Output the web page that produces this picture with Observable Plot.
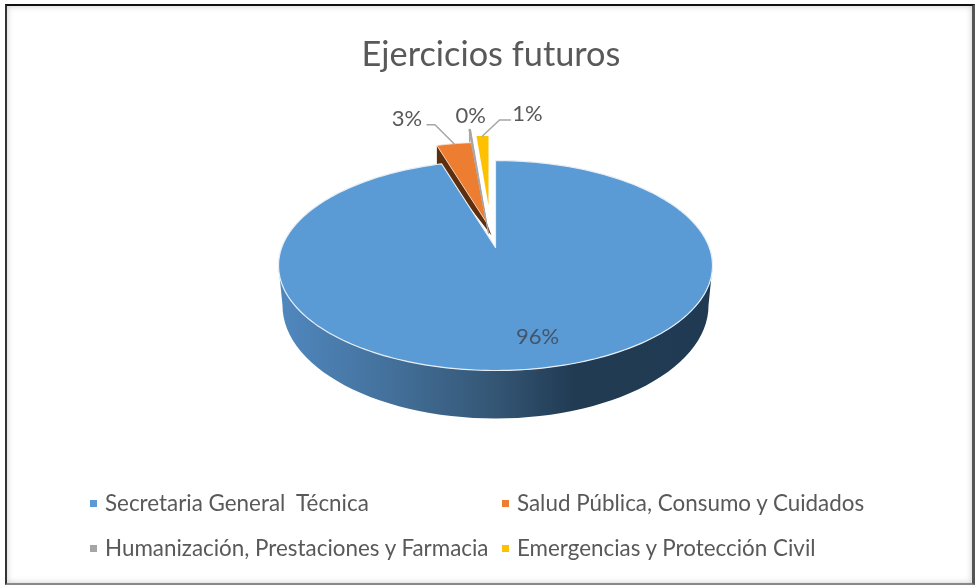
<!DOCTYPE html>
<html lang="es">
<head>
<meta charset="utf-8">
<script src="https://cdn.jsdelivr.net/npm/d3@7"></script>
<script src="https://cdn.jsdelivr.net/npm/@observablehq/plot@0.6"></script>
<style>
  html, body { margin: 0; padding: 0; background: #fff; }
  #page { position: relative; width: 976px; height: 585px; overflow: hidden; font-family: Lato, "Open Sans", sans-serif; color: #595959; filter: blur(0.7px); }
  #frame { position: absolute; left: 5px; top: 4px; right: 1px; bottom: 0; border-style: solid; border-width: 2px 3px 2px 2px; border-color: #111 #555 #888 #333; box-shadow: inset 0 0 6px #ccc; pointer-events: none; box-sizing: border-box; }
  h1 { position: absolute; left: 0; top: 30px; width: 982px; margin: 0; text-align: center; font-size: 34.3px; line-height: 46px; font-weight: 400; color: #595959; }
  #chart { position: absolute; left: 0; top: 80px; }
  #chart svg { display: block; }
  #legend { position: absolute; left: 0; top: 470px; width: 976px; height: 110px; font-size: 22.4px; }
  .item { position: absolute; white-space: pre; line-height: 26px; }
  .item i { position: absolute; left: -15px; top: 10px; width: 7px; height: 7px; }
</style>
</head>
<body>
<div id="page">
  <h1>Ejercicios futuros</h1>
  <div id="chart"></div>
  <div id="legend"></div>
  <div id="frame"></div>
</div>
<script>
// Data
const categories = ["Secretaria General  Técnica", "Salud Pública, Consumo y Cuidados", "Humanización, Prestaciones y Farmacia", "Emergencias y Protección Civil"];
const shares = [96.0, 2.8, 0.1, 1.1];
const colors = ["#5b9bd5", "#ed7d31", "#a5a5a5", "#ffc000"];

// Geometry of the tilted pie (pixels per pie unit, pie centre)
const W = 976, H = 390, top0 = 80, RX = 217, RY = 105, CX = 495, CY = 265;
const APEX = 18 / RY;                 // perspective: the hub sits above the ellipse centre
const toX = px => (px - CX) / RX, toY = py => (CY - py) / RY;
const dx = px => px / RX, dy = py => -py / RY;

const total = d3.sum(shares);
const cum = d3.cumsum(shares).map(v => v / total);
const slices = shares.map((v, i) => ({i, from: i ? cum[i - 1] : 0, to: cum[i]}));

const rim = f => ({x: Math.sin(2 * Math.PI * f), y: Math.cos(2 * Math.PI * f)});
// explode: [offset x px, offset y px, radial scale]
const explode = [[0, 0, 1], [-9, -25, 0.92], [-7, -14, 1.2], [-7, -42, 0.8]];
function slicePoint(i, f) {
  const [ox, oy, k] = explode[i], p = rim(f), a = {x: 0, y: APEX};
  return {x: a.x + (p.x - a.x) * k + dx(ox), y: a.y + (p.y - a.y) * k + dy(oy)};
}
function slicePoly(s) {
  const n = Math.max(2, Math.ceil((s.to - s.from) * 240));
  const [ox, oy] = explode[s.i];
  const hub = {x: dx(ox), y: APEX + dy(oy)};
  const arc = d3.range(n + 1).map(t => slicePoint(s.i, s.from + (s.to - s.from) * t / n));
  return [hub, ...arc, hub].map(p => ({...p, id: s.i}));
}

// Outer wall of the main slice
const ang = d3.range(0, 61).map(t => Math.PI * t / 60);
const wallTop = ang.map(a => ({x: Math.cos(a), y: -Math.sin(a)}));
const wallBot = ang.map(a => ({x: Math.cos(a) * 213 / RX, y: -40 / RY - Math.sin(a) * 113 / RY})).reverse();
const wall = [...wallTop, ...wallBot, wallTop[0]];

// Thin wall of the exploded orange slice
const oPoly = slicePoly(slices[1]);
const oCorner = oPoly[1], oHub = oPoly[0];
const oWall = [oHub, oCorner, {x: oCorner.x, y: oCorner.y + dy(19)}, {x: oHub.x + dx(5), y: oHub.y + dy(13)}, oHub];

// Labels are placed relative to the rim of their slice
const pct = d3.format(".0%");
const mid = s => slicePoint(s.i, (s.from + s.to) / 2);
const labelOffset = [[null, null], [-47, -25], [1, -13], [45, -22]];
const labels = slices.map(s => {
  const m = mid(s);
  if (s.i === 0) return {x: dx(42), y: dy(336 - 265), t: pct(shares[0] / total), c: "#44546a"};
  const [ox, oy] = labelOffset[s.i];
  return {x: m.x + dx(ox), y: m.y + dy(oy), t: pct(shares[s.i] / total), c: "#595959"};
});
// Leader lines: [rim anchor, elbow, end]
const leaders = [
  [[0, 0], [-19, -19], [-27, -19]],
  [[0, 0], [0, 12]],
  [[0, 0], [17, -16], [28, -16]]
].map((pts, k) => {
  const m = mid(slices[k + 1]);
  return pts.map(([a, b]) => ({x: m.x + dx(a), y: m.y + dy(b), id: k}));
}).flat();

const defs = () => {
  const d = d3.create("svg:defs");
  const g = d.append("linearGradient").attr("id", "wallGrad");
  [[0, "#5088bf"], [0.25, "#44719c"], [0.5, "#345674"], [0.68, "#213b53"], [1, "#1f3a52"]].forEach(([o, c]) =>
    g.append("stop").attr("offset", o).attr("stop-color", c));
  return d.node();
};

const chart = Plot.plot({
  width: W, height: H, margin: 0,
  x: {domain: [toX(0), toX(W)], axis: null},
  y: {domain: [toY(top0 + H), toY(top0)], axis: null},
  marks: [
    defs,
    Plot.line(wall, {x: "x", y: "y", fill: "url(#wallGrad)", stroke: "none", curve: "linear"}),
    Plot.line(oWall, {x: "x", y: "y", fill: "#5e2f0f", stroke: "none", curve: "linear"}),
    Plot.line(slicePoly(slices[0]), {x: "x", y: "y", fill: colors[0], stroke: "#e8eef5", strokeWidth: 1.2, curve: "linear"}),
    Plot.line(oPoly, {x: "x", y: "y", fill: colors[1], stroke: "#f3dccb", strokeWidth: 0.8, curve: "linear"}),
    Plot.line(slicePoly(slices[2]), {x: "x", y: "y", fill: colors[2], stroke: colors[2], strokeWidth: 1, curve: "linear"}),
    Plot.line(slicePoly(slices[3]), {x: "x", y: "y", fill: colors[3], stroke: "none", curve: "linear"}),
    Plot.line(leaders, {x: "x", y: "y", z: "id", stroke: "#a6a6a6", strokeWidth: 1.5, curve: "linear"}),
    Plot.text(labels, {x: "x", y: "y", text: "t", fill: "c", fontSize: 22, fontFamily: "Lato, 'Open Sans', sans-serif"})
  ]
});
document.getElementById("chart").append(chart);

// Legend
const legendPos = [[105, 20], [517, 20], [105, 65], [517, 65]];
const legend = d3.select("#legend");
categories.forEach((c, i) => {
  const it = legend.append("div").attr("class", "item")
    .style("left", legendPos[i][0] + "px").style("top", legendPos[i][1] + "px").text(c);
  it.append("i").style("background", colors[i]);
});
</script>
</body>
</html>
